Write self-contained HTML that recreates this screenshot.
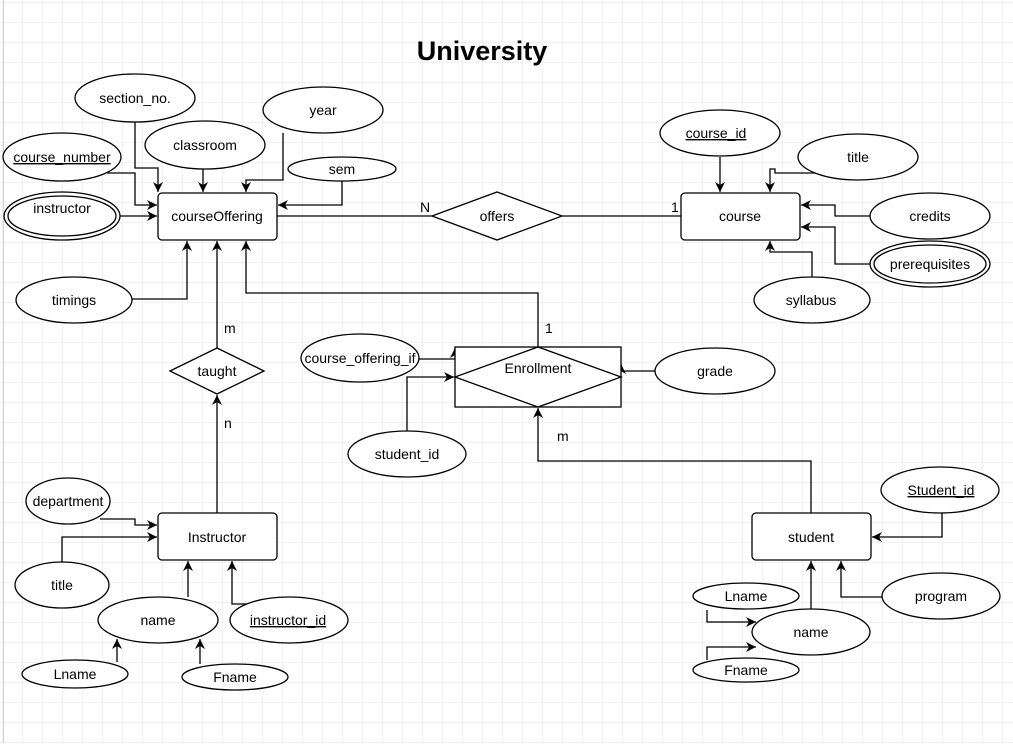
<!DOCTYPE html>
<html><head><meta charset="utf-8"><style>
body{margin:0;background:#fff}
svg text{font-family:"Liberation Sans",Arial,sans-serif;font-size:14px;fill:#000}
</style></head><body>
<svg width="1013" height="743" viewBox="0 0 1013 743" xmlns="http://www.w3.org/2000/svg">
<defs>
<pattern id="g" width="20" height="20" patternUnits="userSpaceOnUse" x="3" y="3">
<path d="M20 0V20M0 20H20" fill="none" stroke="#e4e4e4" stroke-width="1"/>
</pattern>
<marker id="a" markerWidth="12" markerHeight="12" refX="10" refY="5" orient="auto" markerUnits="userSpaceOnUse">
<path d="M0,0 L10,5 L0,10 L3,5 Z" fill="#000"/>
</marker>
</defs>
<rect width="1013" height="743" fill="#fff"/>
<rect width="1013" height="743" fill="url(#g)"/>
<line x1="3.5" y1="0" x2="3.5" y2="743" stroke="#d0d0d0"/>
<text x="482" y="60" text-anchor="middle" style="font-size:27px;font-weight:bold">University</text>

<g fill="none" stroke="#000" stroke-width="1.3">
<!-- courseOffering connectors -->
<polyline points="135,122 135,168 158,168 158,192" marker-end="url(#a)"/>
<polyline points="203,169 203,192" marker-end="url(#a)"/>
<polyline points="283,133 283,180 246,180 246,192" marker-end="url(#a)"/>
<polyline points="342,181 342,205 278,205" marker-end="url(#a)"/>
<polyline points="107,173 135,173 135,205 157,205" marker-end="url(#a)"/>
<polyline points="120,216 157,216" marker-end="url(#a)"/>
<polyline points="132,299 187,299 187,241" marker-end="url(#a)"/>
<polyline points="217,348 217,241" marker-end="url(#a)"/>
<polyline points="217,513 217,395" marker-end="url(#a)"/>
<polyline points="538,347 538,293 246,293 246,241" marker-end="url(#a)"/>
<line x1="277" y1="216" x2="432" y2="216"/>
<line x1="562" y1="216" x2="681" y2="216"/>
<!-- course connectors -->
<polyline points="720,157 720,192" marker-end="url(#a)"/>
<polyline points="818,173 775,173 775,169 770,169 770,192" marker-end="url(#a)"/>
<polyline points="870,216 835,216 835,205 801,205" marker-end="url(#a)"/>
<polyline points="870,264 835,264 835,227 801,227" marker-end="url(#a)"/>
<polyline points="812,277 812,252 770,252 770,241" marker-end="url(#a)"/>
<!-- instructor connectors -->
<polyline points="100,519 135,519 135,525 157,525" marker-end="url(#a)"/>
<polyline points="62,562 62,537 157,537" marker-end="url(#a)"/>
<polyline points="188,597 188,561" marker-end="url(#a)"/>
<polyline points="248,604 232,604 232,561" marker-end="url(#a)"/>
<polyline points="117,662 117,639" marker-end="url(#a)"/>
<polyline points="200,664 200,639" marker-end="url(#a)"/>
<!-- enrollment -->
<polyline points="419,359 455,359 455,348" marker-end="url(#a)"/>
<polyline points="407,431 407,377 454,377" marker-end="url(#a)"/>
<polyline points="655,371 621,371 621,364" marker-end="url(#a)"/>
<polyline points="811,513 811,461 538,461 538,408" marker-end="url(#a)"/>
<!-- student -->
<polyline points="942,513 942,537 872,537" marker-end="url(#a)"/>
<polyline points="882,597 841,597 841,561" marker-end="url(#a)"/>
<polyline points="811,609 811,561" marker-end="url(#a)"/>
<polyline points="707,610 707,622 756,622" marker-end="url(#a)"/>
<polyline points="707,660 707,647 756,647" marker-end="url(#a)"/>
</g>

<g fill="#fff" stroke="#000" stroke-width="1.3">
<rect x="158" y="193" width="119" height="47" rx="4"/>
<rect x="681" y="193" width="119" height="47" rx="4"/>
<rect x="158" y="513" width="119" height="47" rx="4"/>
<rect x="752" y="513" width="119" height="47" rx="4"/>
<polygon points="432,216 497,192 562,216 497,240"/>
<polygon points="170,371 217,348 264,371 217,394"/>
<rect x="455" y="347" width="166" height="60"/>
<polygon points="455,377 538,347 621,377 538,407" fill="none"/>
<ellipse cx="135" cy="98" rx="60" ry="24"/>
<ellipse cx="205" cy="145" rx="60" ry="24"/>
<ellipse cx="323" cy="110" rx="60" ry="23"/>
<ellipse cx="342" cy="169" rx="54" ry="12"/>
<ellipse cx="62" cy="157" rx="59" ry="24"/>
<ellipse cx="62" cy="216" rx="58" ry="24"/>
<ellipse cx="62" cy="216" rx="54" ry="20"/>
<ellipse cx="74" cy="300" rx="58" ry="23"/>
<ellipse cx="720" cy="133" rx="60" ry="23"/>
<ellipse cx="858" cy="157" rx="60" ry="23"/>
<ellipse cx="930" cy="216" rx="60" ry="23"/>
<ellipse cx="930" cy="264" rx="60" ry="23"/>
<ellipse cx="930" cy="264" rx="56" ry="19"/>
<ellipse cx="812" cy="300" rx="58" ry="23"/>
<ellipse cx="360" cy="358" rx="59" ry="24"/>
<ellipse cx="407" cy="454" rx="59" ry="23"/>
<ellipse cx="715" cy="371" rx="60" ry="23"/>
<ellipse cx="68" cy="501" rx="42" ry="23"/>
<ellipse cx="62" cy="585" rx="47" ry="23"/>
<ellipse cx="158" cy="620" rx="60" ry="23"/>
<ellipse cx="289" cy="620" rx="59" ry="23"/>
<ellipse cx="75" cy="674" rx="53" ry="14"/>
<ellipse cx="235" cy="677" rx="53" ry="13"/>
<ellipse cx="940" cy="490" rx="59" ry="23"/>
<ellipse cx="941" cy="596" rx="59" ry="23"/>
<ellipse cx="811" cy="632" rx="59" ry="23"/>
<ellipse cx="746" cy="596" rx="53" ry="13"/>
<ellipse cx="746" cy="670" rx="53" ry="12"/>
</g>

<g text-anchor="middle">
<text x="217" y="221">courseOffering</text>
<text x="740" y="221">course</text>
<text x="217" y="542">Instructor</text>
<text x="811" y="542">student</text>
<text x="497" y="221">offers</text>
<text x="217" y="376">taught</text>
<text x="538" y="373">Enrollment</text>
<text x="135" y="103">section_no.</text>
<text x="205" y="150">classroom</text>
<text x="323" y="115">year</text>
<text x="342" y="174">sem</text>
<text x="62" y="162" text-decoration="underline">course_number</text>
<text x="62" y="213">instructor</text>
<text x="74" y="305">timings</text>
<text x="716" y="138" text-decoration="underline">course_id</text>
<text x="858" y="162">title</text>
<text x="930" y="221">credits</text>
<text x="930" y="269">prerequisites</text>
<text x="811" y="305">syllabus</text>
<text x="360" y="363">course_offering_if</text>
<text x="407" y="459">student_id</text>
<text x="715" y="376">grade</text>
<text x="68" y="506">department</text>
<text x="62" y="590">title</text>
<text x="158" y="625">name</text>
<text x="288" y="625" text-decoration="underline">instructor_id</text>
<text x="75" y="679">Lname</text>
<text x="235" y="682">Fname</text>
<text x="941" y="495" text-decoration="underline">Student_id</text>
<text x="941" y="601">program</text>
<text x="811" y="637">name</text>
<text x="746" y="601">Lname</text>
<text x="746" y="675">Fname</text>
</g>
<text x="420" y="212">N</text>
<text x="671" y="212">1</text>
<text x="224" y="333">m</text>
<text x="224" y="428">n</text>
<text x="545" y="333">1</text>
<text x="557" y="441">m</text>
</svg>
</body></html>
